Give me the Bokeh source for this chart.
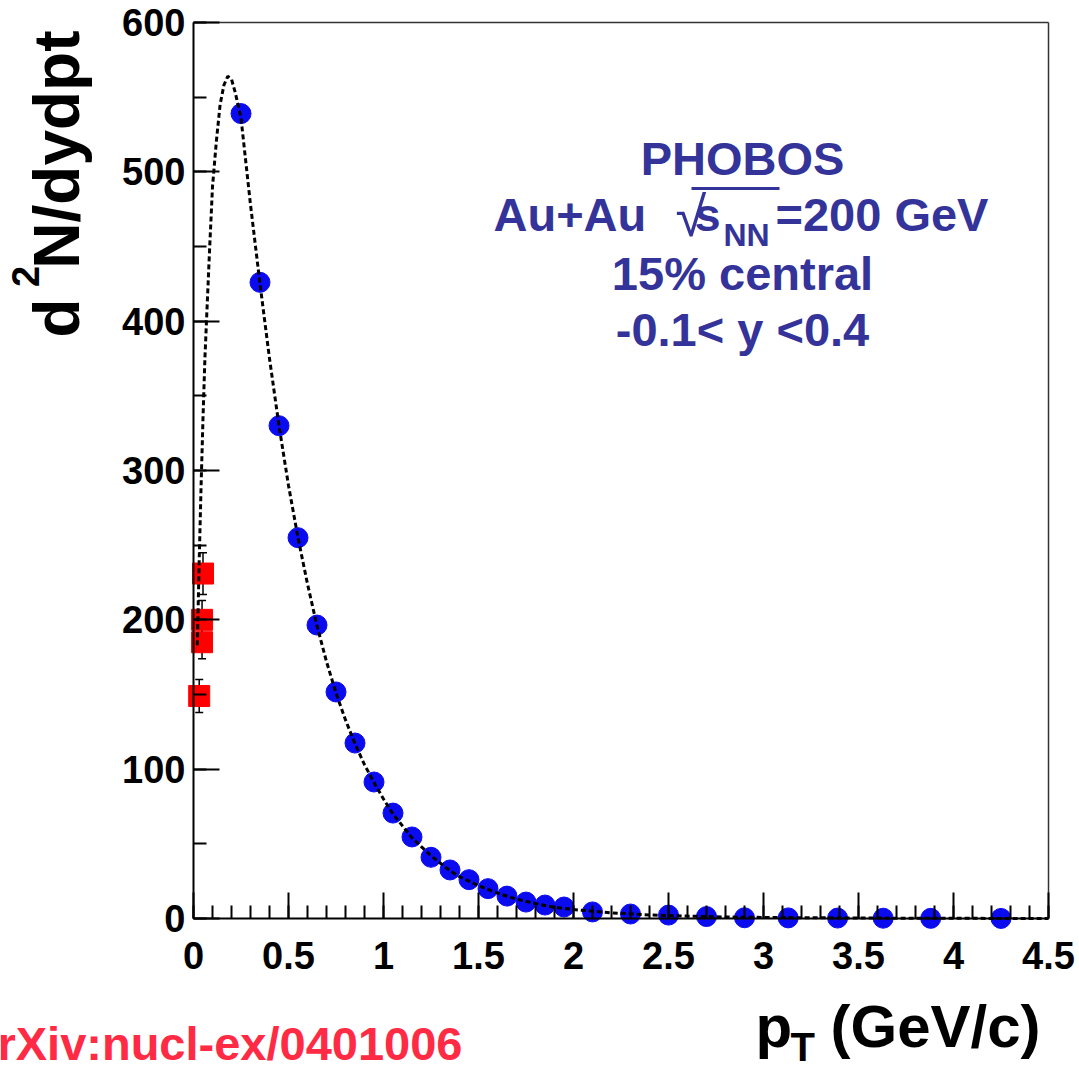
import math
from bokeh.plotting import figure
from bokeh.models import (Range1d, FixedTicker, CustomJSTickFormatter, Label,
                          Whisker, ColumnDataSource, TeeHead)
from bokeh.embed import file_html
from bokeh.resources import INLINE

# ---------------- data ----------------
blue_pt = [0.25, 0.35, 0.45, 0.55, 0.65, 0.75, 0.85, 0.95, 1.05, 1.15,
           1.25, 1.35, 1.45, 1.55, 1.65, 1.75, 1.85, 1.95, 2.1, 2.3,
           2.5, 2.7, 2.9, 3.13, 3.39, 3.63, 3.88, 4.25]
blue_y = [539, 426, 330, 255, 196.5, 151.7, 117.5, 91.4, 70.6, 54.6,
          41, 32.5, 26, 20, 15, 11, 9, 7.7, 4.4, 3.0,
          2.3, 1.3, 0.5, 0.4, 0.3, 0.2, 0.1, 0.05]

red_pt = [0.03, 0.045, 0.045, 0.05]
red_y = [149, 185, 200, 231]
red_err = [11, 11, 13, 14]

fit_pt = [0.02, 0.03, 0.04, 0.05, 0.06, 0.07, 0.085, 0.10, 0.12, 0.14,
          0.16, 0.18, 0.20, 0.22, 0.25, 0.30, 0.35, 0.40, 0.45, 0.50,
          0.55, 0.60, 0.65, 0.70, 0.75, 0.80, 0.85, 0.90, 0.95, 1.00,
          1.05, 1.10, 1.15, 1.20, 1.25, 1.30, 1.35, 1.40, 1.50, 1.60,
          1.70, 1.80, 1.90, 2.00, 2.20, 2.40, 2.60, 2.80, 3.00, 3.50,
          4.00, 4.50]
fit_y = [183, 240, 290, 335, 375, 405, 449, 490, 520, 545,
         558, 564, 562, 553, 536, 478, 425, 375, 330, 290,
         255, 224, 196, 172, 151, 133, 117, 103, 91, 80,
         70, 62, 54, 48, 42, 37, 32, 28, 22, 17,
         13, 10, 7.5, 6, 3.8, 2.4, 1.6, 1.0, 0.7, 0.3,
         0.1, 0.05]

x_ticks = [0, 0.5, 1, 1.5, 2, 2.5, 3, 3.5, 4, 4.5]
x_tick_labels = ["0", "0.5", "1", "1.5", "2", "2.5", "3", "3.5", "4", "4.5"]
y_ticks = [0, 100, 200, 300, 400, 500, 600]
y_tick_labels = ["0", "100", "200", "300", "400", "500", "600"]

X_MIN, X_MAX = 0.0, 4.5
Y_MIN, Y_MAX = 0.0, 600.0

# ---------------- layout geometry (page pixels) ----------------
W, H = 1079, 1070
PX_L, PX_R = 193, 1048          # plot box left / right
PY_B, PY_T = 918, 22            # plot box bottom / top
KX = (PX_R - PX_L) / (X_MAX - X_MIN)
KY = (PY_B - PY_T) / (Y_MAX - Y_MIN)

def dx(px):
    return X_MIN + (px - PX_L) / KX

def dy(py):
    return Y_MIN + (PY_B - py) / KY

FONT = "Liberation Sans"
p = figure(width=W, height=H, x_range=Range1d(dx(0), dx(W)), y_range=Range1d(dy(H), dy(0)),
           output_backend="svg", toolbar_location=None,
           min_border_left=0, min_border_right=0, min_border_top=0, min_border_bottom=0)
p.title.visible = False
p.grid.visible = False
p.background_fill_color = "white"
p.border_fill_color = "white"
p.outline_line_color = None

p.xaxis.fixed_location = Y_MIN
p.yaxis.fixed_location = X_MIN
p.xaxis.bounds = (X_MIN, X_MAX)
p.yaxis.bounds = (Y_MIN, Y_MAX)

p.xaxis.ticker = FixedTicker(ticks=x_ticks, minor_ticks=[round(0.1 * i, 2) for i in range(46)])
p.yaxis.ticker = FixedTicker(ticks=y_ticks, minor_ticks=[50 * i for i in range(13)])
FMT = """
let k = -1;
for (let j = 0; j < tv.length; j++) { if (Math.abs(tv[j] - tick) < 1e-9) { k = j; } }
return k >= 0 ? tl[k] : '';"""
p.xaxis.formatter = CustomJSTickFormatter(args=dict(tv=x_ticks, tl=x_tick_labels), code=FMT)
p.yaxis.formatter = CustomJSTickFormatter(args=dict(tv=y_ticks, tl=y_tick_labels), code=FMT)

for ax in (p.xaxis[0], p.yaxis[0]):
    ax.major_tick_in = 26
    ax.major_tick_out = 0
    ax.minor_tick_in = 13
    ax.minor_tick_out = 0
    ax.axis_line_width = 2
    ax.major_tick_line_width = 2
    ax.minor_tick_line_width = 2
    ax.axis_line_color = "black"
    ax.major_tick_line_color = "black"
    ax.minor_tick_line_color = "black"
    ax.major_label_text_font = FONT
    ax.major_label_text_font_style = "bold"
    ax.major_label_text_font_size = "38px"
    ax.major_label_text_color = "black"
p.xaxis.major_label_standoff = 23
p.yaxis.major_label_standoff = 8

# top and right edges of the plot box
p.segment(x0=[X_MIN, X_MAX], y0=[Y_MAX, Y_MIN], x1=[X_MAX, X_MAX], y1=[Y_MAX, Y_MAX],
          line_color="#333333", line_width=1.5)

# ---------------- data marks ----------------
p.scatter(red_pt, red_y, marker="square", size=21, fill_color="#ff0000", line_color="#ff0000")
p.scatter(blue_pt, blue_y, marker="circle", size=20, fill_color="#0b0bf0", line_color="#0b0bf0")

src = ColumnDataSource(dict(x=red_pt,
                            lower=[v - e for v, e in zip(red_y, red_err)],
                            upper=[v + e for v, e in zip(red_y, red_err)]))
w = Whisker(source=src, base="x", lower="lower", upper="upper", dimension="height",
            line_color="black", line_width=1.5,
            upper_head=TeeHead(size=8, line_color="black", line_width=1.5),
            lower_head=TeeHead(size=8, line_color="black", line_width=1.5))
p.add_layout(w)

p.line(fit_pt, fit_y, line_color="black", line_width=3, line_dash="5 3")

# ---------------- texts ----------------
ANN = "#333399"

def lab(px, base, text, size, color="black", align="left", rotated=False, style="bold"):
    """Place text with its alphabetic baseline at page pixel `base`
    (x-pixel for rotated text, y-pixel otherwise)."""
    shift = 0.40 * size
    if rotated:
        x, y, angle = dx(base - shift), dy(px), math.pi / 2
    else:
        x, y, angle = dx(px), dy(base - shift), 0
    p.add_layout(Label(x=x, y=y, text=text, text_align=align, text_baseline="middle",
                       text_font=FONT, text_font_style=style, text_font_size=f"{size}px",
                       text_color=color, angle=angle))

lab(742, 177, "PHOBOS", 47, ANN, "center")
lab(493, 233, "Au+Au", 47, ANN)
lab(675, 238, "\u221a", 56, ANN, style="normal")
lab(694, 233, "s", 47, ANN)
lab(723, 247, "NN", 32, ANN)
lab(775, 233, "=200 GeV", 47, ANN)
p.segment(x0=[dx(691)], y0=[dy(188)], x1=[dx(779)], y1=[dy(188)], line_color=ANN, line_width=3)
lab(742, 292, "15% central", 47, ANN, "center")
lab(742, 348, "-0.1< y <0.4", 47, ANN, "center")

# y-axis title (rotated: first argument is the y pixel along the text)
lab(337, 82, "d", 64, rotated=True)
lab(276, 40, "2", 38, align="center", rotated=True)
lab(30, 82, "N/dydpt", 64, align="right", rotated=True)

# x-axis title
lab(755, 1050, "p", 60)
lab(790, 1062, "T", 40)
lab(830, 1050, "(GeV/c)", 60)

# source note (cut at the left edge, as in the original)
lab(462, 1062, "arXiv:nucl-ex/0401006", 47, "#ff2a44", "right")

open("out.html", "w").write(file_html(p, INLINE))
